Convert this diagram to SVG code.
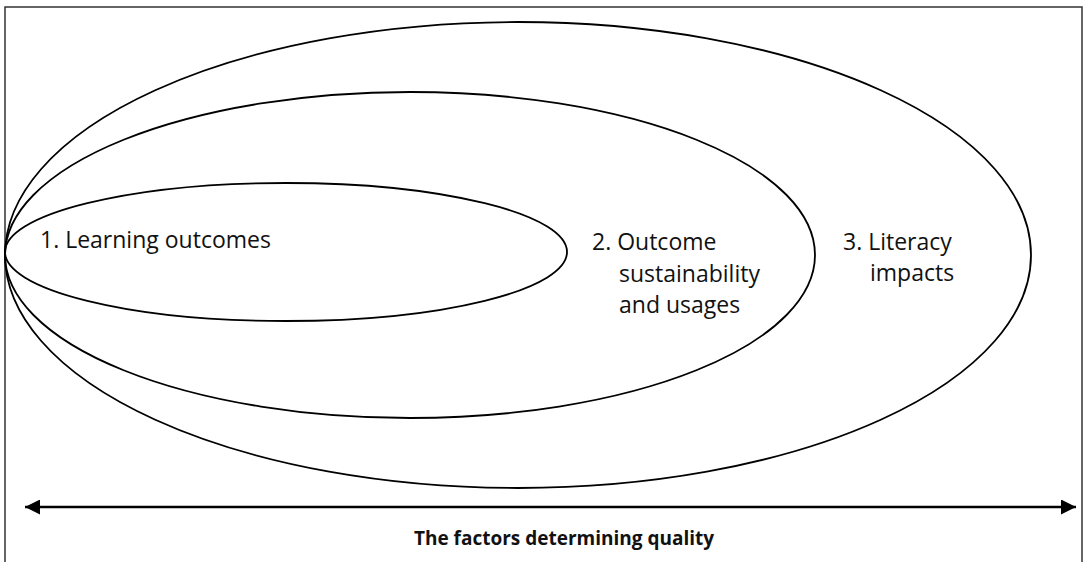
<svg xmlns="http://www.w3.org/2000/svg" width="1087" height="562" viewBox="0 0 1087 562">
<style>
.ring{fill:none;stroke:#000;stroke-width:1.8}
.lbl{font-family:"Open Sans","Noto Sans","Liberation Sans",sans-serif;font-size:23px;fill:#111}
.ttl{font-family:"Open Sans","Noto Sans","Liberation Sans",sans-serif;font-size:19px;font-weight:bold;fill:#111}
</style>
<defs>
<marker id="ah" viewBox="0 0 10 10" refX="10" refY="5" markerWidth="15" markerHeight="15" markerUnits="userSpaceOnUse" orient="auto-start-reverse">
<path d="M0,0 L10,5 L0,10 Z" fill="#000"/>
</marker>
</defs>
<rect x="5" y="7" width="1077" height="556" fill="#fff" stroke="#333" stroke-width="1.5"/>
<g id="outer">
<ellipse class="ring" cx="518" cy="255" rx="513" ry="233"/>
<text class="lbl" x="843" y="250">3. Literacy</text>
<text class="lbl" x="870" y="281">impacts</text>
</g>
<g id="middle">
<ellipse class="ring" cx="410" cy="255" rx="405" ry="163"/>
<text class="lbl" x="592" y="250">2. Outcome</text>
<text class="lbl" x="619" y="282">sustainability</text>
<text class="lbl" x="619" y="313">and usages</text>
</g>
<g id="inner">
<ellipse class="ring" cx="286" cy="252" rx="281" ry="69"/>
<text class="lbl" x="40" y="248">1. Learning outcomes</text>
</g>
<g id="connectors">
<line x1="25" y1="507" x2="1076" y2="507" stroke="#000" stroke-width="2.5" marker-start="url(#ah)" marker-end="url(#ah)"/>
</g>
<g id="caption">
<text class="ttl" x="564" y="545" text-anchor="middle">The factors determining quality</text>
</g>
</svg>
